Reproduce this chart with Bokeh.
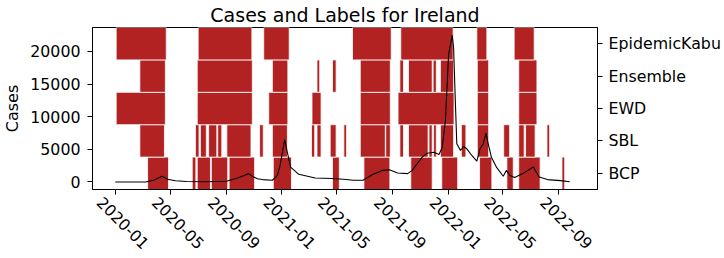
import math
import pandas as pd
from bokeh.plotting import figure
from bokeh.models import (Range1d, LinearAxis, FixedTicker, ColumnDataSource)
from bokeh.embed import file_html
from bokeh.resources import INLINE

# ---------------- data ----------------
methods = ["BCP", "SBL", "EWD", "Ensemble", "EpidemicKabu"]

epidemickabu_periods = [
    ("2020-01-03", "2020-04-22"), ("2020-07-01", "2020-10-27"),
    ("2020-11-22", "2021-01-17"), ("2021-06-05", "2021-08-29"),
    ("2021-09-19", "2022-01-12"), ("2022-03-05", "2022-03-27"),
    ("2022-05-26", "2022-07-09"),
]
ensemble_periods = [
    ("2020-02-24", "2020-04-20"), ("2020-06-29", "2020-10-28"),
    ("2020-12-11", "2021-01-14"), ("2021-03-19", "2021-03-25"),
    ("2021-04-22", "2021-04-30"), ("2021-06-22", "2021-08-27"),
    ("2021-09-17", "2021-09-25"), ("2021-10-06", "2021-11-27"),
    ("2021-11-29", "2021-12-06"), ("2021-12-15", "2022-01-13"),
    ("2022-03-06", "2022-03-31"), ("2022-06-05", "2022-07-15"),
]
ewd_periods = [
    ("2020-01-03", "2020-04-20"), ("2020-06-29", "2020-10-28"),
    ("2020-12-03", "2021-01-14"), ("2021-03-08", "2021-03-28"),
    ("2021-06-22", "2021-08-27"), ("2021-09-13", "2022-01-14"),
    ("2022-03-06", "2022-03-31"), ("2022-06-05", "2022-07-15"),
]
sbl_periods = [
    ("2020-02-24", "2020-04-18"), ("2020-06-25", "2020-07-03"),
    ("2020-07-06", "2020-07-19"), ("2020-07-24", "2020-08-11"),
    ("2020-08-13", "2020-08-22"), ("2020-09-02", "2020-10-25"),
    ("2020-11-13", "2020-11-21"), ("2020-12-11", "2021-01-13"),
    ("2021-03-07", "2021-03-14"), ("2021-03-19", "2021-03-28"),
    ("2021-04-17", "2021-04-30"), ("2021-05-17", "2021-05-23"),
    ("2021-06-22", "2021-08-16"), ("2021-08-17", "2021-08-27"),
    ("2021-09-17", "2021-09-25"), ("2021-10-06", "2021-11-18"),
    ("2021-11-20", "2021-11-27"), ("2021-11-30", "2021-12-06"),
    ("2021-12-15", "2022-01-13"), ("2022-01-30", "2022-02-09"),
    ("2022-03-06", "2022-03-31"), ("2022-05-03", "2022-05-16"),
    ("2022-06-05", "2022-06-17"), ("2022-06-20", "2022-07-11"),
    ("2022-08-06", "2022-08-12"),
]
bcp_periods = [
    ("2020-03-12", "2020-04-27"), ("2020-06-18", "2020-06-26"),
    ("2020-06-29", "2020-07-28"), ("2020-07-30", "2020-09-04"),
    ("2020-09-07", "2020-11-02"), ("2020-12-13", "2021-01-22"),
    ("2021-04-22", "2021-05-07"), ("2021-06-30", "2021-08-26"),
    ("2021-10-11", "2021-11-27"), ("2021-12-18", "2022-01-22"),
    ("2022-03-11", "2022-04-07"), ("2022-05-10", "2022-05-24"),
    ("2022-06-05", "2022-07-22"), ("2022-09-08", "2022-09-14"),
]

case_dates = [
    "2020-01-01", "2020-03-08", "2020-03-25", "2020-04-13", "2020-04-25",
    "2020-05-12", "2020-06-06", "2020-07-16", "2020-09-01", "2020-09-24",
    "2020-10-11", "2020-10-20", "2020-10-28", "2020-11-08", "2020-11-19",
    "2020-12-11", "2020-12-22", "2020-12-28", "2021-01-07", "2021-01-12",
    "2021-01-20", "2021-02-07", "2021-03-15", "2021-04-20", "2021-05-16",
    "2021-06-07", "2021-06-28", "2021-07-09", "2021-07-20", "2021-08-11",
    "2021-08-25", "2021-09-12", "2021-10-04", "2021-10-14", "2021-11-05",
    "2021-11-16", "2021-12-01", "2021-12-12", "2021-12-19", "2021-12-26",
    "2022-01-02", "2022-01-10", "2022-01-13", "2022-01-17", "2022-01-20",
    "2022-01-28", "2022-02-04", "2022-02-11", "2022-02-22", "2022-03-05",
    "2022-03-12", "2022-03-19", "2022-03-25", "2022-03-30", "2022-04-06",
    "2022-04-17", "2022-05-02", "2022-05-09", "2022-05-16", "2022-05-27",
    "2022-06-14", "2022-07-07", "2022-07-20", "2022-08-07", "2022-09-05",
    "2022-09-25",
]
case_values = [
    0, 0, 250, 870, 410,
    180, 60, 30, 100, 560,
    1020, 1280, 870, 490, 365,
    260, 1000, 2540, 6490, 4820,
    2280, 1170, 610, 520, 410,
    260, 260, 710, 1170, 1780,
    1880, 1370, 1280, 1780, 3800,
    4410, 4560, 4210, 5320, 9380,
    19520, 22450, 20520, 11960, 5840,
    4820, 5430, 5080, 4060, 3190,
    5080, 5840, 7450, 5840, 3800,
    2280, 870, 1780, 1020, 670,
    1280, 2280, 760, 365, 210,
    30,
]

x_tick_labels = ["2020-01", "2020-05", "2020-09", "2021-01", "2021-05",
                 "2021-09", "2022-01", "2022-05", "2022-09"]
y_ticks = [0, 5000, 10000, 15000, 20000]

# ---------------- build sources ----------------
rows = {"BCP": bcp_periods, "SBL": sbl_periods, "EWD": ewd_periods,
        "Ensemble": ensemble_periods, "EpidemicKabu": epidemickabu_periods}
bar_pos, bar_left, bar_right = [], [], []
for i, m in enumerate(methods):
    for s, e in rows[m]:
        bar_pos.append(i)
        bar_left.append(pd.Timestamp(s))
        bar_right.append(pd.Timestamp(e))
bars = ColumnDataSource(dict(pos=bar_pos, left=bar_left, right=bar_right))
cases = ColumnDataSource(dict(date=pd.to_datetime(case_dates), value=case_values))

FONT = "DejaVu Sans"
TICK_FS = "15.8px"

p = figure(width=724, height=258, x_axis_type="datetime",
           x_range=Range1d(pd.Timestamp("2019-11-12"), pd.Timestamp("2022-11-25")),
           y_range=Range1d(-1155, 23663),
           output_backend="svg", toolbar_location=None,
           min_border_left=86, min_border_right=127,
           min_border_top=26, min_border_bottom=69,
           title="Cases and Labels for Ireland")
p.extra_y_ranges = {"labels": Range1d(-0.5, len(methods) - 0.5)}

p.hbar(y="pos", left="left", right="right", height=1.0, source=bars,
       y_range_name="labels", fill_color="#b22222", line_color="white",
       line_width=1, line_alpha=0.8)
p.line(x="date", y="value", source=cases, line_color="black", line_width=1.1)

right_axis = LinearAxis(y_range_name="labels",
                        ticker=FixedTicker(ticks=list(range(len(methods)))),
                        major_label_overrides={i: m for i, m in enumerate(methods)})
p.add_layout(right_axis, "right")

p.grid.visible = False
p.outline_line_color = "black"
p.outline_line_alpha = 1
p.outline_line_width = 1
p.background_fill_color = "white"
p.border_fill_color = "white"

p.title.align = "center"
p.title.text_font = FONT
p.title.text_font_size = "19px"
p.title.text_font_style = "normal"
p.title.text_color = "black"
p.title.standoff = 3

for ax in p.axis:
    ax.axis_line_color = "black"
    ax.major_tick_line_color = "black"
    ax.major_tick_in = 0
    ax.major_tick_out = 5
    ax.minor_tick_line_color = None
    ax.major_label_text_font = FONT
    ax.major_label_text_font_size = TICK_FS
    ax.major_label_text_color = "black"
    ax.major_label_standoff = 7
    ax.axis_label_text_font = FONT
    ax.axis_label_text_font_size = "16px"
    ax.axis_label_text_font_style = "normal"
    ax.axis_label_text_color = "black"
    ax.axis_label_standoff = 5

right_axis.major_label_standoff = 6

# x axis: tick marks sit on the real month starts (drawn as minor ticks);
# the rotated labels are anchored slightly to the left so that each label
# is centred under its tick mark, as in the reference.
tick_ms = [pd.Timestamp(t).value // 10**6 for t in x_tick_labels]
label_shift_ms = int(34 * 86400000)
label_ms = [t - label_shift_ms for t in tick_ms]
xa = p.xaxis[0]
xa.ticker = FixedTicker(ticks=label_ms, minor_ticks=tick_ms)
xa.major_label_overrides = {lm: lab for lm, lab in zip(label_ms, x_tick_labels)}
xa.major_tick_line_color = None
xa.minor_tick_line_color = "black"
xa.minor_tick_in = 0
xa.minor_tick_out = 5
xa.major_tick_out = 5
xa.major_label_standoff = 5
xa.major_label_orientation = -math.pi / 4

p.yaxis[0].ticker = FixedTicker(ticks=y_ticks)
p.yaxis[0].axis_label = "Cases"

open("out.html", "w").write(file_html(p, INLINE))
